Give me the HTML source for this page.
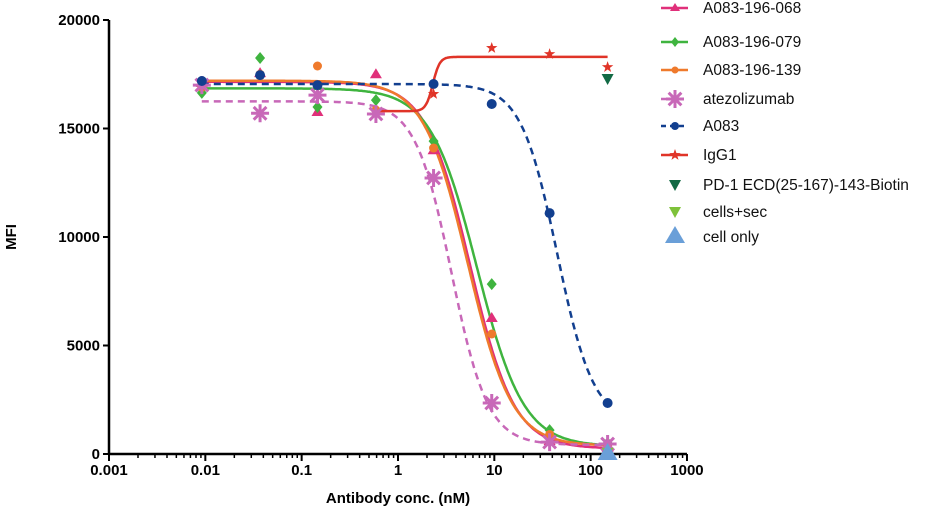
<!DOCTYPE html>
<html><head><meta charset="utf-8"><style>
body{margin:0;background:#fff;}
svg{display:block;font-family:"Liberation Sans",Arial,sans-serif;}
</style></head><body>
<svg id="chart" width="946" height="515">
<g id="axes"></g>
<g id="plot"></g>
<g id="legend"></g>
<text x="0" y="0" transform="translate(16,237) rotate(-90)" text-anchor="middle" font-size="15" font-weight="bold">MFI</text>
<text x="398" y="503" text-anchor="middle" font-size="15" font-weight="bold">Antibody conc. (nM)</text>
</svg>
<script>
const conc = [0.0092,0.037,0.146,0.59,2.34,9.4,37.5,150];
const yTicks = [0,5000,10000,15000,20000];
const xTickLabels = ["0.001","0.01","0.1","1","10","100","1000"];
const s068 = [17100,17550,15760,17500,14000,6270,600,280];
const s079 = [16640,18250,15990,16310,14420,7830,1100,500];
const s139 = [16900,17500,17880,15850,14100,5530,900,400];
const sAtezo = [17000,15700,16540,15670,12720,2350,550,460];
const sA083 = [17190,17460,17000,null,17050,16130,11100,2350];
const sIgG1 = [null,null,null,null,16590,18710,18430,17830];
const sPD1 = [null,null,null,null,null,null,null,17280];
const sCellsSec = [null,null,null,null,null,null,null,60];
const sCellOnly = [null,null,null,null,null,null,null,0];
// fit params: high-dose plateau, low-dose plateau, ec50, hill, curve start conc
const fit068 = [250,17150,5.6,1.9,0.0092];
const fit079 = [350,16850,6.6,1.8,0.0092];
const fit139 = [380,17200,5.3,1.9,0.0092];
const fitAtezo = [420,16250,3.6,2.3,0.0092];
const fitA083 = [1400,17050,45,2.3,0.0092];
const fitIgG1 = [18300,15800,2.3,12,0.59];

const NS="http://www.w3.org/2000/svg";
const X0=109, DEC=96.33, Y0=454, YS=434/20000;
const xs=v=>X0+DEC*(Math.log10(v)+3);
const ys=v=>Y0-v*YS;
function el(t,a,p){const e=document.createElementNS(NS,t);for(const k in a)e.setAttribute(k,a[k]);p.appendChild(e);return e;}
const axes=document.getElementById('axes'),plot=document.getElementById('plot'),leg=document.getElementById('legend');

let yl=el('line',{x1:X0,y1:ys(20000),x2:X0,y2:Y0+1,stroke:'#000','stroke-width':2.5},axes);


let xl=el('line',{x1:X0-1,y1:Y0,x2:xs(1000),y2:Y0,stroke:'#000','stroke-width':2.5},axes);


yTicks.forEach(v=>{
  el('line',{x1:X0-6,y1:ys(v),x2:X0,y2:ys(v),stroke:'#000','stroke-width':2},axes);
  const t=el('text',{x:X0-9,y:ys(v)+5,'text-anchor':'end','font-size':15,'font-weight':'bold'},axes);
  t.textContent=v;
  
  
});
xTickLabels.forEach((s,i)=>{
  const x=X0+DEC*i;
  el('line',{x1:x,y1:Y0,x2:x,y2:Y0+7,stroke:'#000','stroke-width':2},axes);
  if(i<6)for(let m=2;m<10;m++){const xm=x+DEC*Math.log10(m);el('line',{x1:xm,y1:Y0,x2:xm,y2:Y0+4,stroke:'#000','stroke-width':1.5},axes);}
  const t=el('text',{x:x,y:Y0+21,'text-anchor':'middle','font-size':15,'font-weight':'bold'},axes);
  t.textContent=s;
  
  
});

function marker(type,x,y,c,p,sz){
  sz=sz||5;let e;
  if(type==='tri')e=el('path',{d:`M${x},${y-sz-1}L${x+sz+1},${y+sz-1}L${x-sz-1},${y+sz-1}Z`,fill:c},p);
  else if(type==='dia')e=el('path',{d:`M${x},${y-sz-1}L${x+sz},${y}L${x},${y+sz+1}L${x-sz},${y}Z`,fill:c},p);
  else if(type==='circ')e=el('circle',{cx:x,cy:y,r:sz-0.5,fill:c},p);
  else if(type==='hex'){e=el('circle',{cx:x,cy:y,r:sz,fill:c},p);}
  else if(type==='ast'){let d='';for(let k=0;k<4;k++){const a=k*Math.PI/4;d+=`M${x-9*Math.cos(a)},${y-9*Math.sin(a)}L${x+9*Math.cos(a)},${y+9*Math.sin(a)}`;}e=el('path',{d:d,stroke:c,'stroke-width':3},p);}
  else if(type==='star'){let d='';for(let k=0;k<10;k++){const r=k%2?2.4:6,a=-Math.PI/2+k*Math.PI/5;d+=(k?'L':'M')+(x+r*Math.cos(a))+','+(y+r*Math.sin(a));}e=el('path',{d:d+'Z',fill:c},p);}
  else if(type==='tdown')e=el('path',{d:`M${x-6},${y-5}L${x+6},${y-5}L${x},${y+6}Z`,fill:c},p);
  else if(type==='bigtri')e=el('path',{d:`M${x},${y-11}L${x+10},${y+6}L${x-10},${y+6}Z`,fill:c},p);
  return e;
}
function curve(f,c,dash,name){
  let d='';
  const a=Math.log10(f[4]),b=Math.log10(conc[7]);
  for(let i=0;i<=300;i++){const v=Math.pow(10,a+i*(b-a)/300);
    const y=f[0]+(f[1]-f[0])/(1+Math.pow(v/f[2],f[3]));d+=(i?'L':'M')+xs(v).toFixed(1)+','+ys(y).toFixed(1);}
  const p=el('path',{d:d,fill:'none',stroke:c,'stroke-width':2.5,'stroke-dasharray':dash||'none'},plot);
  
  
}
const series=[
 {n:'a083-196-068',l:'A083-196-068',d:s068,f:fit068,c:'#e0307a',m:'tri'},
 {n:'a083-196-079',l:'A083-196-079',d:s079,f:fit079,c:'#3fb43f',m:'dia'},
 {n:'a083-196-139',l:'A083-196-139',d:s139,f:fit139,c:'#ef7a2c',m:'circ'},
 {n:'atezolizumab',l:'atezolizumab',d:sAtezo,f:fitAtezo,c:'#c868b8',m:'ast',dash:'7,5'},
 {n:'a083',l:'A083',d:sA083,f:fitA083,c:'#123f8f',m:'hex',dash:'7,5'},
 {n:'igg1',l:'IgG1',d:sIgG1,f:fitIgG1,c:'#e03428',m:'star'},
 {n:'pd1-ecd',l:'PD-1 ECD(25-167)-143-Biotin',d:sPD1,c:'#126a45',m:'tdown'},
 {n:'cells-sec',l:'cells+sec',d:sCellsSec,c:'#7ec23a',m:'tdown'},
 {n:'cell-only',l:'cell only',d:sCellOnly,c:'#6a9fd8',m:'bigtri'}
];
series.forEach(s=>{if(s.f)curve(s.f,s.c,s.dash,s.n);});
series.forEach(s=>{s.d.forEach((v,i)=>{if(v==null)return;const e=marker(s.m,xs(conc[i]),ys(v),s.c,plot);
  
  });});
const legY=[8,42,70,99,126,155,185,212,237];
series.forEach((s,i)=>{
  const g=el('g',{},leg);
  
  
  const y=legY[i];
  if(s.f)el('line',{x1:661,y1:y,x2:688,y2:y,stroke:s.c,'stroke-width':2.5,'stroke-dasharray':s.dash?'5,4':'none'},g);
  marker(s.m,675,y,s.c,g,s.m==='ast'?5:4);
  const t=el('text',{x:703,y:y+5,'font-size':15.5,fill:'#111'},g);
  t.textContent=s.l;
});
</script>
</body></html>
